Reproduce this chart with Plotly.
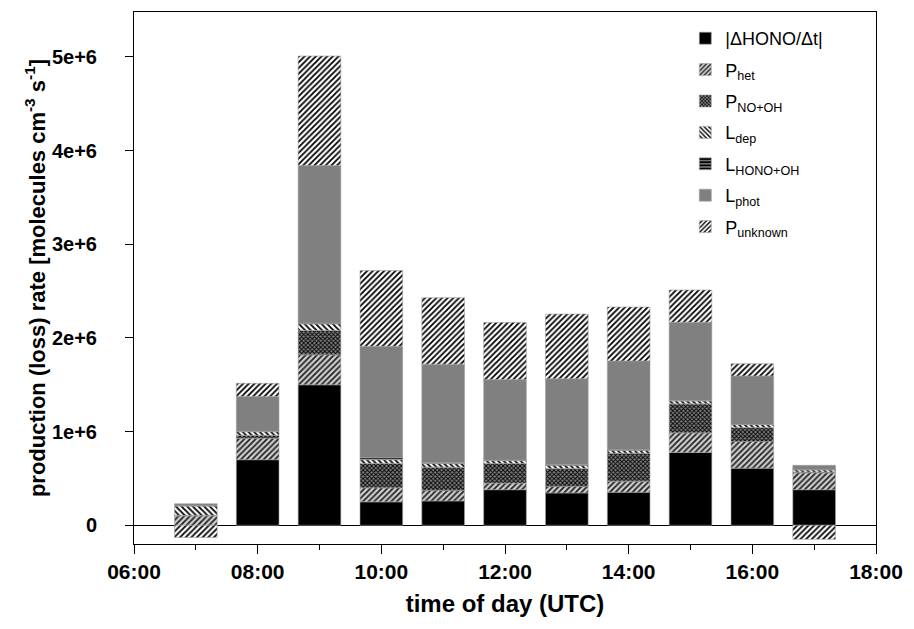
import plotly.graph_objects as go

# ---- data (values in units of 1e6 molecules cm^-3 s^-1) ----
times = ["07:00", "08:00", "09:00", "10:00", "11:00", "12:00",
         "13:00", "14:00", "15:00", "16:00", "17:00"]
dHONO_dt  = [0.00, 0.70, 1.50, 0.25, 0.26, 0.38, 0.345, 0.353, 0.777, 0.61, 0.38]
P_het     = [0.10, 0.23, 0.32, 0.15, 0.11, 0.07, 0.07, 0.117, 0.21, 0.285, 0.18]
P_NO_OH   = [0.005, 0.03, 0.26, 0.26, 0.25, 0.21, 0.19, 0.30, 0.31, 0.15, 0.01]
L_dep     = [0.10, 0.04, 0.07, 0.04, 0.04, 0.03, 0.035, 0.03, 0.03, 0.03, 0.02]
L_HONO_OH = [0.005, 0.005, 0.01, 0.02, 0.01, 0.005, 0.01, 0.005, 0.005, 0.0, 0.005]
L_phot    = [0.02, 0.37, 1.68, 1.19, 1.05, 0.86, 0.915, 0.95, 0.835, 0.52, 0.045]
P_unknown = [-0.13, 0.14, 1.17, 0.81, 0.71, 0.61, 0.69, 0.575, 0.345, 0.13, -0.15]
SCALE = 1e6

ytick_vals = [0, 1e6, 2e6, 3e6, 4e6, 5e6]
ytick_text = ["0", "1e+6", "2e+6", "3e+6", "4e+6", "5e+6"]

DAY = "2000-01-01 "
x = [DAY + t for t in times]

FONT = "Arial, Liberation Sans, sans-serif"
series = [
    ("|\u0394HONO/\u0394t|", dHONO_dt, dict(color="#000000")),
    ("P<sub>het</sub>", P_het, dict(color="#c8c8c8", pattern=dict(shape="/", fgcolor="#202020", bgcolor="#d0d0d0", size=4, solidity=0.45, fillmode="replace"))),
    ("P<sub>NO+OH</sub>", P_NO_OH, dict(color="#606060", pattern=dict(shape="x", fgcolor="#000000", bgcolor="#808080", size=3, solidity=0.5, fillmode="replace"))),
    ("L<sub>dep</sub>", L_dep, dict(color="#ffffff", pattern=dict(shape="\\", fgcolor="#000000", bgcolor="#ffffff", size=4, solidity=0.45, fillmode="replace"))),
    ("L<sub>HONO+OH</sub>", L_HONO_OH, dict(color="#404040", pattern=dict(shape="-", fgcolor="#000000", bgcolor="#909090", size=4, solidity=0.6, fillmode="replace"))),
    ("L<sub>phot</sub>", L_phot, dict(color="#808080")),
    ("P<sub>unknown</sub>", P_unknown, dict(color="#ffffff", pattern=dict(shape="/", fgcolor="#000000", bgcolor="#ffffff", size=4, solidity=0.45, fillmode="replace"))),
]

fig = go.Figure()
for i, (name, vals, mk) in enumerate(series):
    fig.add_trace(go.Bar(
        x=x, y=[v * SCALE for v in vals], name=name,
        width=0.69 * 3600 * 1000,
        marker=dict(line=dict(color="#a0a0a0", width=0.6), **mk),
        legendgroup="g%d" % i,
    ))

fig.update_layout(
    barmode="relative",
    width=914, height=629,
    margin=dict(l=134, r=38, t=12, b=85),
    paper_bgcolor="white", plot_bgcolor="white",
    font=dict(family=FONT, color="black"),
    showlegend=True,
    legend=dict(x=0.743, y=0.985, xanchor="left", yanchor="top",
                font=dict(size=18, family=FONT), tracegroupgap=5,
                bgcolor="rgba(0,0,0,0)", borderwidth=0, traceorder="grouped"),
)
fig.update_xaxes(
    type="date",
    range=[DAY + "06:00", DAY + "18:00"],
    dtick=2 * 3600 * 1000, tick0=DAY + "06:00", tickformat="%H:%M",
    ticks="outside", ticklen=9, tickwidth=1, tickcolor="black",
    minor=dict(dtick=3600 * 1000, ticks="outside", ticklen=5, tickcolor="black", showgrid=False),
    showline=True, linecolor="black", linewidth=1, mirror=True,
    showgrid=False,
    tickfont=dict(size=21, family=FONT, weight="bold"),
    title=dict(text="time of day (UTC)", font=dict(size=24, family=FONT, weight="bold"), standoff=12),
)
fig.update_yaxes(
    range=[-0.2e6, 5.48e6],
    tickvals=ytick_vals, ticktext=ytick_text,
    ticks="outside", ticklen=8, tickwidth=1, tickcolor="black",
    showline=True, linecolor="black", linewidth=1, mirror=True,
    showgrid=False,
    zeroline=True, zerolinecolor="black", zerolinewidth=1,
    tickfont=dict(size=20, family=FONT, weight="bold"),
    ticklabelstandoff=24,
    title=dict(text="production (loss) rate [molecules cm<sup>-3</sup> s<sup>-1</sup>]",
               font=dict(size=22, family=FONT, weight="bold"), standoff=0),
)
fig.write_html("out.html")
